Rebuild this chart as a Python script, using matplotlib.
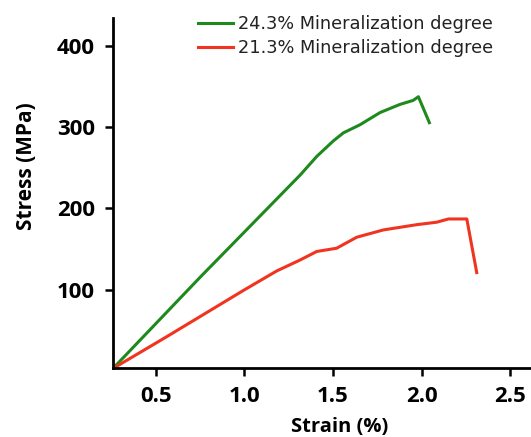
import matplotlib
matplotlib.use("Agg")
import matplotlib.pyplot as plt

# Data
strain_243 = [0.26, 0.75, 1.315, 1.409, 1.502, 1.559, 1.653, 1.766, 1.878, 1.953, 1.982, 2.044]
stress_243 = [3, 115, 241, 264, 283, 293, 303, 318, 328, 333, 337.5, 305.5]

strain_213 = [0.26, 0.562, 0.995, 1.183, 1.315, 1.409, 1.521, 1.634, 1.784, 1.973, 2.085, 2.151, 2.255, 2.311]
stress_213 = [3, 42, 99, 123, 136.5, 147, 151, 164.5, 173.5, 180, 183, 187, 187, 121]

labels = ["24.3% Mineralization degree", "21.3% Mineralization degree"]
x_ticks = [0.5, 1.0, 1.5, 2.0, 2.5]
y_ticks = [100, 200, 300, 400]

W, H = 531, 437
fig = plt.figure(figsize=(W / 100, H / 100), dpi=100)
ax = fig.add_axes([113 / W, 1 - 368.3 / H, (W - 113) / W, (368.3 - 18.3) / H])

green = "#1e8a1e"
red = "#f0341f"
ax.plot(strain_243, stress_243, color=green, lw=2.2, label=labels[0], solid_joinstyle="round")
ax.plot(strain_213, stress_213, color=red, lw=2.2, label=labels[1], solid_joinstyle="round")

ax.set_xlim(0.26, 2.617)
ax.set_ylim(3.2, 434)
ax.set_xticks(x_ticks)
ax.set_yticks(y_ticks)

for s in ["top", "right"]:
    ax.spines[s].set_visible(False)
for s in ["left", "bottom"]:
    ax.spines[s].set_linewidth(2.0)
    ax.spines[s].set_color("black")

tick_font = dict(family="Open Sans", weight="bold", size=16)
ax.tick_params(axis="both", direction="out", length=6, width=1.8, color="black", pad=7)
ax.set_xticklabels([f"{v:.1f}" for v in x_ticks], **tick_font)
ax.set_yticklabels([str(v) for v in y_ticks], **tick_font)

ax.set_xlabel("Strain (%)", family="Open Sans", weight="bold", size=14.5)
ax.set_ylabel("Stress (MPa)", family="Open Sans", weight="bold", size=15)
ax.xaxis.set_label_coords((339.5 - 113) / (W - 113), (368.3 - 417) / 350)
ax.yaxis.set_label_coords((37 - 113) / (W - 113), (368.3 - 166) / 350)

leg = ax.legend(loc="upper left", bbox_to_anchor=(198 / W, 1 - 15 / H),
                bbox_transform=fig.transFigure, frameon=False,
                prop=dict(family="DejaVu Sans", size=12.8),
                handlelength=1.95, handletextpad=0.3, labelspacing=0.36,
                borderpad=0, borderaxespad=0)
for t in leg.get_texts():
    t.set_color("#222222")

fig.savefig("out.png", dpi=100)
